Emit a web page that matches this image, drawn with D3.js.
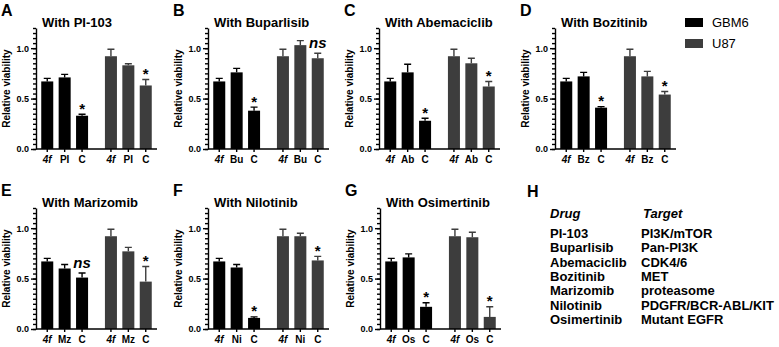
<!DOCTYPE html>
<html>
<head>
<meta charset="utf-8">
<script src="https://cdn.jsdelivr.net/npm/d3@7"></script>
<style>
  body { margin: 0; background: #fff; }
  svg { display: block; font-family: "Liberation Sans", Arial, sans-serif; }
</style>
</head>
<body>
<svg id="chart" width="779" height="347"></svg>
<script>
// cell lines and their colours
const cellLines = ['GBM6', 'U87']
const cellColors = ['#000000', '#3d3d3d']
// one panel per drug
const panelLetters = ['A', 'B', 'C', 'D', 'E', 'F', 'G']
const drugNames = ['PI-103', 'Buparlisib', 'Abemaciclib', 'Bozitinib', 'Marizomib', 'Nilotinib', 'Osimertinib']
const drugAbbr = ['PI', 'Bu', 'Ab', 'Bz', 'Mz', 'Ni', 'Os']
const drugTargets = ['PI3K/mTOR', 'Pan-PI3K', 'CDK4/6', 'MET', 'proteasome', 'PDGFR/BCR-ABL/KIT', 'Mutant EGFR']
// relative viability for 4f, drug, combination
const gbm6Means = [
  [0.67, 0.71, 0.33], [0.67, 0.76, 0.38], [0.67, 0.76, 0.28], [0.67, 0.72, 0.41],
  [0.67, 0.60, 0.51], [0.67, 0.61, 0.11], [0.67, 0.71, 0.22]
]
const gbm6Errors = [
  [0.03, 0.03, 0.015], [0.03, 0.04, 0.035], [0.03, 0.08, 0.025], [0.03, 0.04, 0.01],
  [0.03, 0.04, 0.045], [0.03, 0.03, 0.01], [0.03, 0.035, 0.04]
]
const u87Means = [
  [0.92, 0.83, 0.63], [0.92, 1.03, 0.90], [0.92, 0.85, 0.62], [0.92, 0.72, 0.54],
  [0.92, 0.77, 0.47], [0.92, 0.92, 0.68], [0.92, 0.91, 0.12]
]
const u87Errors = [
  [0.07, 0.015, 0.06], [0.07, 0.045, 0.05], [0.07, 0.05, 0.05], [0.07, 0.05, 0.03],
  [0.07, 0.04, 0.15], [0.07, 0.03, 0.04], [0.07, 0.05, 0.1]
]
// significance marks on the combination bar (GBM6, U87)
const comboMarks = [
  ['*', '*'], ['*', 'ns'], ['*', '*'], ['*', '*'], ['ns', '*'], ['*', '*'], ['*', '*']
]
const yMajorTicks = [0, 0.5, 1.0]

const svg = d3.select('#chart')

// where each panel's axes sit
const panelX = [36, 208, 379, 555, 36, 208, 380]
const panelTop = [28, 28, 28, 28, 208, 208, 208]
const plotH = 121
const plotW = 121

drugNames.forEach((drug, p) => {
  const g = svg.append('g')
    .attr('transform', `translate(${panelX[p]},${panelTop[p]})`)

  const y = d3.scaleLinear().domain([0, 1.2]).range([plotH, 0])
  const outer = d3.scaleBand().domain(cellLines).range([0, plotW])
    .paddingInner(0.18).paddingOuter(0.04)
  const cats = ['4f', drugAbbr[p], 'C']
  const inner = d3.scaleBand().domain(cats).range([0, outer.bandwidth()])
    .paddingInner(0.31).paddingOuter(0.155)

  // panel letter and title
  svg.append('text')
    .attr('x', panelX[p] - 35).attr('y', panelTop[p] - 12)
    .attr('font-size', 16).attr('font-weight', 'bold')
    .text(panelLetters[p])
  g.append('text')
    .attr('x', 6).attr('y', -1.5)
    .attr('font-size', 13).attr('font-weight', 'bold')
    .text('With ' + drug)

  // y axis title
  g.append('text')
    .attr('transform', `translate(-26,${plotH / 2}) rotate(-90)`)
    .attr('text-anchor', 'middle')
    .attr('font-size', 10).attr('font-weight', 'bold')
    .text('Relative viability')

  // minor ticks
  g.append('g')
    .call(d3.axisLeft(y).tickValues(d3.range(0, 1.2001, 0.05)).tickSize(3).tickSizeOuter(0).tickFormat(''))
    .call(a => a.select('.domain').remove())
  // major ticks
  g.append('g')
    .call(d3.axisLeft(y).tickValues(yMajorTicks).tickSize(5).tickSizeOuter(0).tickPadding(2).tickFormat(d3.format('.1f')))
    .call(a => a.selectAll('text').attr('font-size', 9).attr('font-weight', 'bold').attr('font-family', null))
  g.selectAll('.tick line, .domain').attr('stroke-width', 1.4)

  const groups = [
    {means: gbm6Means[p], errs: gbm6Errors[p]},
    {means: u87Means[p], errs: u87Errors[p]}
  ]

  groups.forEach((grp, k) => {
    const gg = g.append('g').attr('transform', `translate(${outer(cellLines[k])},0)`)
    const rows = cats.map((c, i) => ({c, m: grp.means[i], e: grp.errs[i]}))

    gg.selectAll('rect').data(rows).enter().append('rect')
      .attr('x', d => inner(d.c))
      .attr('y', d => y(d.m))
      .attr('width', inner.bandwidth())
      .attr('height', d => plotH - y(d.m))
      .attr('fill', cellColors[k])

    // upper error whisker
    gg.selectAll('path.err').data(rows).enter().append('path')
      .attr('class', 'err')
      .attr('d', d => {
        const cx = inner(d.c) + inner.bandwidth() / 2
        return `M${cx},${y(d.m)}V${y(d.m + d.e)}M${cx - 3.5},${y(d.m + d.e)}H${cx + 3.5}`
      })
      .attr('stroke', cellColors[k]).attr('stroke-width', 1.4).attr('fill', 'none')

    // significance mark
    const last = rows[2]
    const mark = comboMarks[p][k]
    gg.append('text')
      .attr('x', inner('C') + inner.bandwidth() / 2)
      .attr('y', y(last.m + last.e) - (mark === 'ns' ? 5 : 0.5))
      .attr('text-anchor', 'middle')
      .attr('font-size', mark === 'ns' ? 15 : 15)
      .attr('font-weight', 'bold')
      .attr('font-style', mark === 'ns' ? 'italic' : 'normal')
      .attr('fill', '#000')
      .text(mark)

    // x tick labels
    gg.append('g')
      .attr('transform', `translate(0,${plotH})`)
      .call(d3.axisBottom(inner).tickSize(3).tickSizeOuter(0).tickPadding(4))
      .call(a => a.select('.domain').remove())
      .call(a => a.selectAll('line').attr('stroke-width', 1.4))
      .call(a => a.selectAll('text')
        .attr('font-size', 10).attr('font-weight', 'bold').attr('font-family', null)
        .attr('font-style', d => d === '4f' ? 'italic' : 'normal'))
  })

  // x axis line
  g.append('path')
    .attr('d', `M0,${plotH}H${plotW}`)
    .attr('stroke', '#000').attr('stroke-width', 1.4)
})

// legend
const legend = svg.append('g').attr('transform', 'translate(685,18)')
cellLines.forEach((name, i) => {
  legend.append('rect')
    .attr('x', 0).attr('y', i * 21)
    .attr('width', 18).attr('height', 9)
    .attr('fill', cellColors[i])
  legend.append('text')
    .attr('x', 27).attr('y', i * 21 + 9)
    .attr('font-size', 13)
    .text(name)
})

// panel H: drug / target table
svg.append('text')
  .attr('x', 527).attr('y', 197)
  .attr('font-size', 16).attr('font-weight', 'bold')
  .text('H')
const table = svg.append('g').attr('font-weight', 'bold').attr('font-size', 13)
table.append('text').attr('x', 550).attr('y', 217.5).attr('font-style', 'italic').text('Drug')
table.append('text').attr('x', 643).attr('y', 217.5).attr('font-style', 'italic').text('Target')
drugNames.forEach((d, i) => {
  table.append('text').attr('x', 550).attr('y', 238 + i * 14.3).text(d)
  table.append('text').attr('x', 641).attr('y', 238 + i * 14.3).text(drugTargets[i])
})
</script>
</body>
</html>
